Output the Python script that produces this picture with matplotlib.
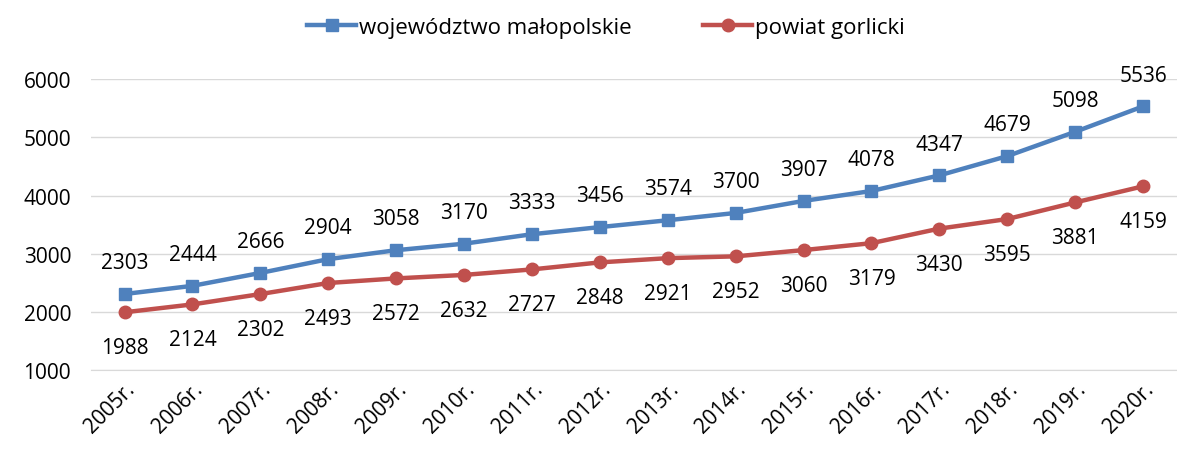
import matplotlib.pyplot as plt

years = ["2005r.", "2006r.", "2007r.", "2008r.", "2009r.", "2010r.", "2011r.", "2012r.",
         "2013r.", "2014r.", "2015r.", "2016r.", "2017r.", "2018r.", "2019r.", "2020r."]
malopolskie = [2303, 2444, 2666, 2904, 3058, 3170, 3333, 3456, 3574, 3700, 3907, 4078, 4347, 4679, 5098, 5536]
gorlicki = [1988, 2124, 2302, 2493, 2572, 2632, 2727, 2848, 2921, 2952, 3060, 3179, 3430, 3595, 3881, 4159]

plt.rcParams['font.family'] = ['Open Sans', 'DejaVu Sans']

fig = plt.figure(figsize=(11.77, 4.52), dpi=100)
ax = fig.add_axes([0.077, 0.18, 0.923, 0.642])

x = range(len(years))
blue = "#4F81BD"
red = "#C0504D"
fs = 15
ax.plot(x, malopolskie, color=blue, lw=3.2, marker="s", ms=9, label="województwo małopolskie", clip_on=False)
ax.plot(x, gorlicki, color=red, lw=3.2, marker="o", ms=9, label="powiat gorlicki", clip_on=False)

for i, v in enumerate(malopolskie):
    ax.annotate(str(v), (i, v), xytext=(0, 15), textcoords="offset points",
                ha="center", va="bottom", fontsize=fs)
for i, v in enumerate(gorlicki):
    ax.annotate(str(v), (i, v), xytext=(0, -18), textcoords="offset points",
                ha="center", va="top", fontsize=fs)

ax.set_xlim(-0.5, len(years) - 0.5)
ax.set_ylim(1000, 6000)
ax.set_yticks(range(1000, 7000, 1000))
ax.set_xticks(list(x))
ax.set_xticklabels(years, rotation=45, ha="right", rotation_mode="anchor", fontsize=fs)
ax.tick_params(axis="y", labelsize=fs, length=0, pad=14)
ax.tick_params(axis="x", length=0, pad=6)
ax.grid(axis="y", color="#D9D9D9", lw=1)
ax.set_axisbelow(True)
for s in ["top", "right", "left"]:
    ax.spines[s].set_visible(False)
ax.spines["bottom"].set_color("#D9D9D9")

fig.legend(loc="upper center", bbox_to_anchor=(0.515, 1.005), ncol=2, frameon=False,
           fontsize=16, handlelength=2.2, handletextpad=0.15, columnspacing=3.2)

fig.savefig("out.png", dpi=100)
